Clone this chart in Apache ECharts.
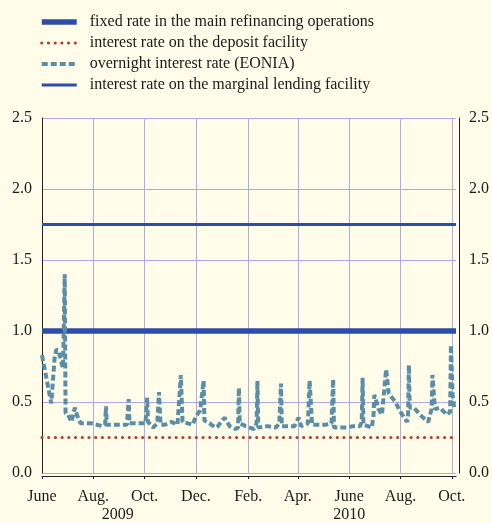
<!DOCTYPE html>
<html>
<head>
<meta charset="utf-8">
<script src="https://cdn.jsdelivr.net/npm/echarts@6/dist/echarts.min.js"></script>
<style>
  html, body { margin: 0; padding: 0; background: #fffde9; }
  #chart { width: 492px; height: 523px; }
</style>
</head>
<body>
<div id="chart"></div>
<script>
// policy rates (constant over the period)
var policyDates = ["2009-06-01", "2010-10-06"];
var mroRate = [1.0, 1.0];
var depositRate = [0.25, 0.25];
var lendingRate = [1.75, 1.75];

// EONIA
var eoniaDates = [
  "2009-06-01", "2009-06-12", "2009-06-16", "2009-06-18", "2009-06-21", "2009-06-23",
  "2009-06-26", "2009-06-28", "2009-06-29", "2009-07-02", "2009-07-06", "2009-07-10",
  "2009-07-13", "2009-07-17", "2009-07-29", "2009-08-12", "2009-08-15", "2009-08-16",
  "2009-08-17", "2009-08-30", "2009-09-10", "2009-09-12", "2009-09-13", "2009-09-23",
  "2009-10-02", "2009-10-04", "2009-10-05", "2009-10-11", "2009-10-16", "2009-10-18",
  "2009-10-20", "2009-10-25", "2009-11-02", "2009-11-09", "2009-11-13", "2009-11-15",
  "2009-11-27", "2009-12-01", "2009-12-06", "2009-12-10", "2009-12-11", "2009-12-17",
  "2009-12-24", "2009-12-27", "2010-01-04", "2010-01-10", "2010-01-17", "2010-01-20",
  "2010-01-21", "2010-01-22", "2010-01-29", "2010-02-08", "2010-02-11", "2010-02-12",
  "2010-02-13", "2010-02-24", "2010-03-06", "2010-03-10", "2010-03-12", "2010-03-13",
  "2010-03-18", "2010-03-28", "2010-04-02", "2010-04-05", "2010-04-13", "2010-04-15",
  "2010-04-18", "2010-04-26", "2010-05-04", "2010-05-11", "2010-05-13", "2010-05-14",
  "2010-05-22", "2010-05-30", "2010-06-05", "2010-06-14", "2010-06-16", "2010-06-17",
  "2010-06-18", "2010-06-28", "2010-06-30", "2010-07-01", "2010-07-06", "2010-07-10",
  "2010-07-15", "2010-07-18", "2010-07-26", "2010-08-01", "2010-08-09", "2010-08-10",
  "2010-08-11", "2010-08-12", "2010-08-17", "2010-08-26", "2010-09-03", "2010-09-07",
  "2010-09-08", "2010-09-11", "2010-09-17", "2010-09-25", "2010-09-29", "2010-09-30",
  "2010-10-02", "2010-10-04"
];
var eoniaValues = [
  0.83, 0.49, 0.81, 0.87, 0.86, 0.80,
  0.74, 1.40, 0.42, 0.41, 0.36, 0.46,
  0.40, 0.35, 0.35, 0.33, 0.34, 0.47,
  0.34, 0.34, 0.34, 0.52, 0.35, 0.35,
  0.35, 0.53, 0.36, 0.32, 0.35, 0.57,
  0.34, 0.34, 0.36, 0.34, 0.69, 0.36,
  0.34, 0.40, 0.44, 0.65, 0.37, 0.35,
  0.32, 0.33, 0.39, 0.33, 0.31, 0.32,
  0.60, 0.35, 0.33, 0.31, 0.35, 0.65,
  0.32, 0.33, 0.32, 0.35, 0.63, 0.33,
  0.33, 0.33, 0.39, 0.33, 0.35, 0.65,
  0.34, 0.34, 0.34, 0.35, 0.66, 0.32,
  0.32, 0.32, 0.33, 0.33, 0.36, 0.67,
  0.34, 0.32, 0.41, 0.55, 0.45, 0.41,
  0.73, 0.56, 0.50, 0.43, 0.36, 0.40,
  0.76, 0.46, 0.46, 0.40, 0.36, 0.45,
  0.69, 0.45, 0.46, 0.41, 0.43, 0.90,
  0.55, 0.45
];

// x axis ticks and labels
var tickDates = ["2009-06-01", "2009-08-01", "2009-10-01", "2009-12-01", "2010-02-01",
  "2010-04-01", "2010-06-01", "2010-08-01", "2010-10-01"];
var tickLabels = ["June", "Aug.", "Oct.", "Dec.", "Feb.", "Apr.", "June", "Aug.", "Oct."];
var yearDates = ["2009-08-30", "2010-06-01"];
var yearLabels = ["2009", "2010"];

var names = [
  "fixed rate in the main refinancing operations",
  "interest rate on the deposit facility",
  "overnight interest rate (EONIA)",
  "interest rate on the marginal lending facility"
];

var FONT = "Liberation Serif";
var TEXT = "#1a1a1a";
var GRID = "#a9acec";
var BLUE = "#2e4da6";

function toTime(d) {
  return +echarts.time.parse(d);
}
var tickTimes = tickDates.map(toTime);

function pairs(dates, values) {
  return dates.map(function (d, i) { return [toTime(d), values[i]]; });
}

var chart = echarts.init(document.getElementById("chart"));

var yAxisBase = {
  type: "value",
  min: 0,
  max: 2.5,
  interval: 0.5,
  axisLine: { show: true, lineStyle: { color: "#222", width: 1 } },
  axisTick: { show: false },
  axisLabel: {
    margin: 10,
    color: TEXT,
    fontFamily: FONT,
    fontSize: 16,
    formatter: function (v) { return v.toFixed(1); }
  }
};

var option = {
  backgroundColor: "#fffde9",
  animation: false,
  legend: {
    orient: "vertical",
    left: 34,
    top: 9,
    itemWidth: 35,
    itemHeight: 16,
    itemGap: 5,
    selectedMode: false,
    data: names,
    itemStyle: { opacity: 0 },
    lineStyle: { width: "inherit" },
    textStyle: {
      color: TEXT,
      fontFamily: FONT,
      fontSize: 16,
      lineHeight: 16,
      padding: [0, 0, 0, 8]
    }
  },
  grid: { left: 42, right: 35, top: 118, bottom: 50 },
  xAxis: {
    type: "value",
    min: toTime(policyDates[0]),
    max: toTime(policyDates[1]),
    offset: 3,
    axisLine: { show: true, onZero: false, lineStyle: { color: "#222", width: 1 } },
    axisTick: {
      show: true,
      length: 3,
      customValues: tickTimes,
      lineStyle: { color: "#222", width: 1 }
    },
    splitLine: { show: true, lineStyle: { color: GRID, width: 1 } },
    axisLabel: {
      margin: 13,
      color: TEXT,
      fontFamily: FONT,
      fontSize: 16,
      customValues: tickTimes,
      hideOverlap: false,
      showMinLabel: true,
      showMaxLabel: true,
      formatter: function (v) {
        var i = tickTimes.indexOf(+v);
        return i >= 0 ? tickLabels[i] : "";
      }
    }
  },
  yAxis: [
    Object.assign({}, yAxisBase, {
      position: "left",
      splitLine: { show: true, lineStyle: { color: GRID, width: 1 } }
    }),
    Object.assign({}, yAxisBase, {
      position: "right",
      offset: 3,
      splitLine: { show: false }
    })
  ],
  series: [
    {
      name: names[0],
      type: "line",
      symbol: "none",
      z: 3,
      data: pairs(policyDates, mroRate),
      lineStyle: { color: BLUE, width: 5.5 },
      itemStyle: { color: BLUE }
    },
    {
      name: names[1],
      type: "line",
      symbol: "none",
      z: 3,
      data: pairs(policyDates, depositRate),
      lineStyle: { color: "#b93c2c", width: 3.2, type: [0.01, 6.7], cap: "round" },
      itemStyle: { color: "#b93c2c" }
    },
    {
      name: names[2],
      type: "line",
      symbol: "none",
      z: 5,
      data: pairs(eoniaDates, eoniaValues),
      lineStyle: { color: "#5b8ea6", width: 4, type: [6, 3] },
      itemStyle: { color: "#5b8ea6" }
    },
    {
      name: names[3],
      type: "line",
      symbol: "none",
      z: 3,
      data: pairs(policyDates, lendingRate),
      lineStyle: { color: BLUE, width: 3 },
      itemStyle: { color: BLUE }
    }
  ]
};

chart.setOption(option);

// year labels under the month labels
chart.setOption({
  graphic: yearDates.map(function (d, i) {
    return {
      type: "text",
      x: chart.convertToPixel({ xAxisIndex: 0 }, toTime(d)),
      y: 515,
      style: {
        text: yearLabels[i],
        fill: TEXT,
        font: "16px '" + FONT + "'",
        align: "center",
        verticalAlign: "middle"
      }
    };
  })
});
</script>
</body>
</html>
